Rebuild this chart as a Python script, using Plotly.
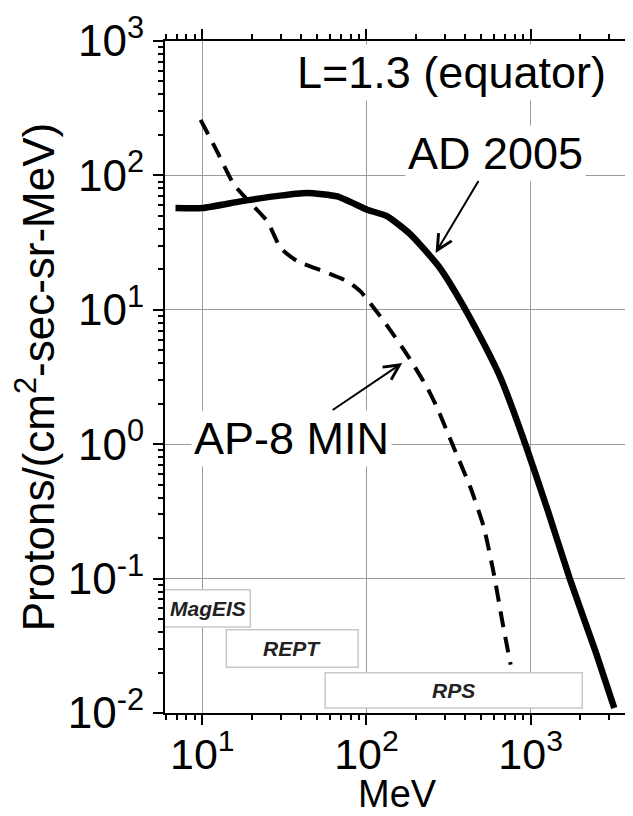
import math
import plotly.graph_objects as go

# ---- data ----
energy_ad2005 = [6.87, 10, 17.1, 27.3, 43.5, 66.4, 101, 134, 186, 270, 325, 473, 656, 931, 1262, 1730, 2500, 3229]
flux_ad2005 = [57.2, 57.2, 64.1, 69.8, 74.0, 69.8, 55.6, 49.6, 36.3, 21.7, 15.5, 6.92, 3.11, 0.99, 0.33, 0.10, 0.028, 0.0109]

energy_ap8 = [9.77, 12.3, 15.6, 18.4, 24.9, 30.0, 37.9, 55.0, 76.4, 92, 128, 177, 235, 270, 341, 431, 520, 598, 672, 755]
flux_ap8 = [259, 151, 85.3, 67.9, 45.5, 28.8, 23.0, 19.3, 16.3, 13.7, 8.2, 4.63, 2.62, 1.86, 0.937, 0.472, 0.238, 0.107, 0.048, 0.0229]

x_tickvals = [10, 100, 1000]
x_ticktext = ["10<sup>1</sup>", "10<sup>2</sup>", "10<sup>3</sup>"]
y_tickvals = [1e-2, 1e-1, 1, 10, 100, 1000]
y_ticktext = ["10<sup>-2</sup>", "10<sup>-1</sup>", "10<sup>0</sup>",
              "10<sup>1</sup>", "10<sup>2</sup>", "10<sup>3</sup>"]

instruments = ["MagEIS", "REPT", "RPS"]
inst_e_lo = [0.06, 14, 56]
inst_e_hi = [19.6, 89, 2060]
inst_f_lo = [0.0437, 0.0219, 0.0109]
inst_f_hi = [0.0826, 0.0417, 0.0199]

x_range = [0.773, 3.605]
y_range = [-2, 3]

FONT = "Liberation Sans, Arial, sans-serif"

fig = go.Figure()
fig.add_trace(go.Scatter(x=energy_ad2005, y=flux_ad2005, mode="lines",
                         line=dict(color="black", width=6.5, shape="spline", smoothing=0.5),
                         name="AD 2005", showlegend=False))
fig.add_trace(go.Scatter(x=energy_ap8, y=flux_ap8, mode="lines",
                         line=dict(color="black", width=4, dash="16px,10px",
                                   shape="spline", smoothing=0.5),
                         name="AP-8 MIN", showlegend=False))

# instrument boxes
for name, e0, e1, f0, f1 in zip(instruments, inst_e_lo, inst_e_hi, inst_f_lo, inst_f_hi):
    fig.add_shape(type="rect", xref="x", yref="y", x0=e0, x1=e1, y0=f0, y1=f1,
                  line=dict(color="#c8c8c8", width=1.5), fillcolor="white", layer="above")
    lx0 = max(math.log10(e0), x_range[0])
    lx1 = math.log10(e1)
    fig.add_annotation(x=(lx0 + lx1) / 2, y=(math.log10(f0) + math.log10(f1)) / 2,
                       xref="x", yref="y", text="<b><i>%s</i></b>" % name,
                       showarrow=False, font=dict(family=FONT, size=21, color="#222"))

fig.add_annotation(x=2.519, y=2.769, xref="x", yref="y", text="L=1.3 (equator)",
                   showarrow=False, bgcolor="white", borderpad=2,
                   font=dict(family=FONT, size=45, color="black"))
fig.add_annotation(x=2.421, y=1.423, ax=2.784, ay=2.166, xref="x", yref="y",
                   axref="x", ayref="y", text="AD 2005", showarrow=True,
                   arrowhead=5, arrowsize=1.5, arrowwidth=2, arrowcolor="black",
                   bgcolor="white", borderpad=2,
                   font=dict(family=FONT, size=45, color="black"))
fig.add_annotation(x=2.218, y=0.604, ax=1.542, ay=0.046, xref="x", yref="y",
                   axref="x", ayref="y", text="AP-8 MIN", showarrow=True,
                   arrowhead=5, arrowsize=1.5, arrowwidth=2, arrowcolor="black",
                   bgcolor="white", borderpad=2,
                   font=dict(family=FONT, size=45, color="black"))

# x-axis title, placed as text just above the bottom edge
fig.add_annotation(x=0.5, y=0, xref="paper", yref="paper", yanchor="bottom",
                   yshift=-103, text="MeV", showarrow=False, borderpad=0,
                   font=dict(family=FONT, size=38, color="black"))

axis_common = dict(type="log", showline=True, linecolor="black", linewidth=2,
                   mirror="ticks", ticks="outside", ticklen=10, tickwidth=2,
                   tickcolor="black", showgrid=True, gridcolor="#9a9a9a", gridwidth=1,
                   zeroline=False, tickmode="array", automargin=False,
                   tickfont=dict(family=FONT, size=44, color="black"),
                   minor=dict(ticks="outside", ticklen=5, tickwidth=1.5,
                              tickcolor="black", dtick="D1", showgrid=False))

fig.update_xaxes(**axis_common, range=x_range, tickvals=x_tickvals, ticktext=x_ticktext,
                 ticklabelstandoff=-8)
fig.update_yaxes(**axis_common, range=y_range, tickvals=y_tickvals, ticktext=y_ticktext,
                 title=dict(text="Protons/(cm<sup>2</sup>-sec-sr-MeV)",
                            font=dict(family=FONT, size=44, color="black"), standoff=0))
fig.update_xaxes(tickfont=dict(family=FONT, size=43, color="black"))

fig.update_layout(width=633, height=816, margin=dict(l=157, r=11, t=33, b=111),
                  plot_bgcolor="white", paper_bgcolor="white",
                  font=dict(family=FONT, color="black"))

fig.write_html("out.html")
